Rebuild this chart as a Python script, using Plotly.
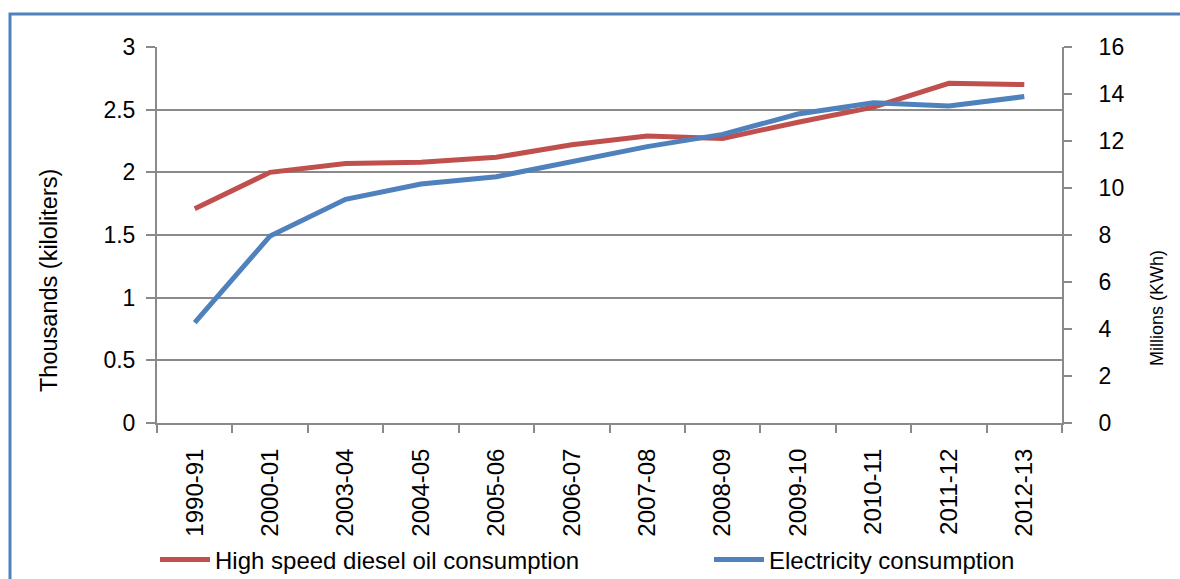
import plotly.graph_objects as go

# Fiscal years on the category axis
years = ["1990-91", "2000-01", "2003-04", "2004-05", "2005-06", "2006-07",
         "2007-08", "2008-09", "2009-10", "2010-11", "2011-12", "2012-13"]

# High speed diesel oil consumption, thousands of kiloliters (left axis)
diesel = [1.71, 2.00, 2.07, 2.08, 2.12, 2.22, 2.29, 2.27, 2.40, 2.52, 2.71, 2.70]

# Electricity consumption, millions of KWh (right axis)
electricity = [4.27, 7.96, 9.52, 10.17, 10.48, 11.14, 11.76, 12.28, 13.15, 13.63, 13.49, 13.89]

RED = "#C0504D"
BLUE = "#4F81BD"
GRID = "#8A8A8A"
FONT = "Liberation Sans, Arial, sans-serif"

W, H = 1180, 579
ML, MR, MT, MB = 157, 118, 47, 156
pw, ph = W - ML - MR, H - MT - MB


def px_x(x):
    return (x - ML) / pw


def px_y(y):
    return (H - MB - y) / ph


fig = go.Figure()
fig.add_trace(go.Scatter(
    x=years, y=diesel, mode="lines", name="High speed diesel oil consumption",
    line=dict(color=RED, width=5), yaxis="y", legend="legend"))
fig.add_trace(go.Scatter(
    x=years, y=electricity, mode="lines", name="Electricity consumption",
    line=dict(color=BLUE, width=5), yaxis="y2", legend="legend2"))

legend_style = dict(
    orientation="h", xanchor="left", yanchor="middle",
    font=dict(size=24), itemwidth=50, bgcolor="rgba(0,0,0,0)")

fig.update_layout(
    width=W, height=H,
    margin=dict(l=ML, r=MR, t=MT, b=MB, autoexpand=False),
    paper_bgcolor="white", plot_bgcolor="white",
    font=dict(family=FONT, size=23, color="black"),
    showlegend=True,
    legend=dict(x=px_x(155), y=px_y(560), **legend_style),
    legend2=dict(x=px_x(709), y=px_y(560), **legend_style),
    xaxis=dict(
        type="category", range=[-0.5, len(years) - 0.5], tickson="boundaries",
        ticks="outside", ticklen=8, tickcolor=GRID, tickwidth=2,
        showline=True, linecolor=GRID, linewidth=2, showgrid=False,
        tickangle=-90, ticklabelstandoff=14, tickfont=dict(size=24),
        automargin=False),
    yaxis=dict(
        range=[0, 3], dtick=0.5, showgrid=True, gridcolor=GRID,
        gridwidth=2, zeroline=False, showline=True, linecolor=GRID, linewidth=2,
        ticks="outside", ticklen=9, tickcolor=GRID, tickwidth=2,
        ticklabelstandoff=6, tickfont=dict(size=23), automargin=False),
    yaxis2=dict(
        range=[0, 16], dtick=2, overlaying="y", side="right", showgrid=False,
        zeroline=False, showline=True, linecolor=GRID, linewidth=2,
        ticks="outside", ticklen=8, tickcolor=GRID, tickwidth=2,
        ticklabelstandoff=22, tickfont=dict(size=23), automargin=False),
)

# Axis titles
fig.add_annotation(
    text="Thousands (kiloliters)", xref="paper", yref="paper",
    x=px_x(49), y=px_y(281), xanchor="center", yanchor="middle",
    textangle=-90, showarrow=False, font=dict(size=23.5))
fig.add_annotation(
    text="Millions (KWh)", xref="paper", yref="paper",
    x=px_x(1157), y=px_y(308), xanchor="center", yanchor="middle",
    textangle=-90, showarrow=False, font=dict(size=18))

# Blue frame around the chart
fig.add_shape(
    type="rect", xref="paper", yref="paper",
    x0=px_x(10), x1=px_x(1200), y0=px_y(600), y1=px_y(14),
    line=dict(color=BLUE, width=3), fillcolor="rgba(0,0,0,0)", layer="below")

fig.write_html("out.html")
